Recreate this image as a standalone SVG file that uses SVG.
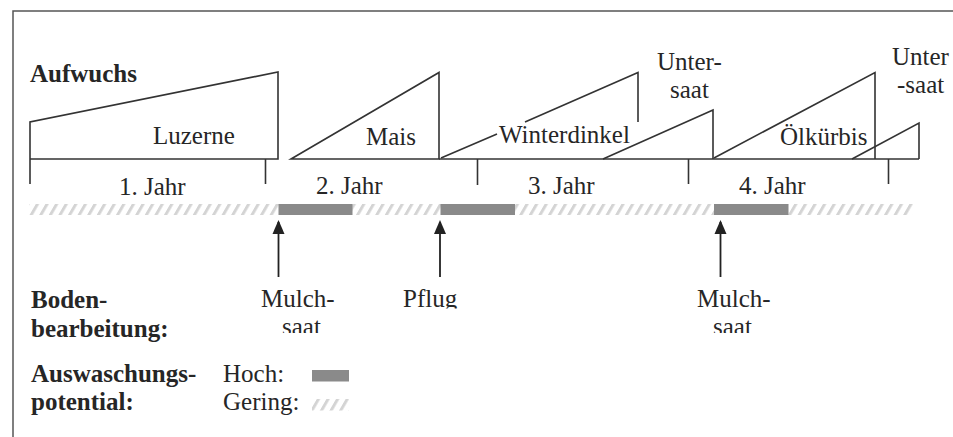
<svg xmlns="http://www.w3.org/2000/svg" width="953" height="437" viewBox="0 0 953 437" font-family="Liberation Serif, serif" font-size="25">
<style>
  .ln{fill:none;stroke:#333;stroke-width:1.6;stroke-linejoin:miter}
  .t{fill:#262626}
  .hi{fill:#8a8a8a}
  .lo{fill:url(#hatch)}
  .arr{stroke:#222;stroke-width:1.8;marker-end:url(#ah)}
</style>
<defs>
  <pattern id="hatch" patternUnits="userSpaceOnUse" width="9.6" height="40" patternTransform="skewX(-30)">
    <rect x="0" y="0" width="3.4" height="40" fill="#d4d4d4"/>
  </pattern>
  <marker id="ah" markerUnits="userSpaceOnUse" markerWidth="14" markerHeight="14" viewBox="0 0 14 12" refX="12" refY="6" orient="auto">
    <path d="M0,0 L14,6 L0,12 z" fill="#222"/>
  </marker>
  <clipPath id="clipTop"><rect x="0" y="280" width="953" height="28.5"/></clipPath>
  <clipPath id="clipBot"><rect x="0" y="310" width="953" height="23"/></clipPath>
</defs>
<rect width="953" height="437" fill="#fff"/>
<path d="M13,437 V11 H953" fill="none" stroke="#555" stroke-width="1.5"/>

<g id="title"><text class="t" font-weight="bold" x="30" y="82">Aufwuchs</text></g>

<g id="luzerne">
  <path class="ln" d="M30,184 V122 L278,72 V159 H30"/>
  <text class="t" x="153" y="144">Luzerne</text>
</g>
<g id="mais">
  <path class="ln" d="M291,159 L439,72.5 V159 Z"/>
  <text class="t" x="366" y="145">Mais</text>
</g>
<g id="winterdinkel">
  <path class="ln" d="M439,159 H919"/>
  <path class="ln" d="M441,158 L497,134 M525,122 L638,72.5 V122"/>
  <text class="t" x="499" y="143">Winterdinkel</text>
</g>
<g id="untersaat1">
  <path class="ln" d="M603,159 L713,110 V159"/>
  <text class="t" x="657" y="70">Unter-</text>
  <text class="t" x="670" y="98">saat</text>
</g>
<g id="oelkuerbis">
  <path class="ln" d="M714,158 L875,72.5 V159"/>
  <text class="t" x="780" y="145">Ölkürbis</text>
</g>
<g id="untersaat2">
  <path class="ln" d="M852,159 L919,123 V159"/>
  <text class="t" x="892" y="65">Unter</text>
  <text class="t" x="897" y="93">-saat</text>
</g>

<g id="jahre">
  <path class="ln" d="M265.5,159 V184 M477.5,159 V185 M688.5,159 V184 M888.5,159 V184"/>
  <text class="t" x="119" y="195">1. Jahr</text>
  <text class="t" x="316" y="194">2. Jahr</text>
  <text class="t" x="528" y="194">3. Jahr</text>
  <text class="t" x="739" y="194">4. Jahr</text>
</g>

<g id="auswaschung">
  <rect class="lo" x="29" y="204" width="884" height="11"/>
  <rect class="hi" x="278.5" y="204" width="74" height="11"/>
  <rect class="hi" x="440.5" y="204" width="74.5" height="11"/>
  <rect class="hi" x="714" y="204" width="74.5" height="11"/>
</g>

<g id="connectors">
  <line class="arr" x1="278.5" y1="277" x2="278.5" y2="222"/>
  <line class="arr" x1="440" y1="277" x2="440" y2="222"/>
  <line class="arr" x1="720.5" y1="277" x2="720.5" y2="222"/>
</g>

<g id="bodenbearbeitung">
  <text class="t" font-weight="bold" x="31" y="308">Boden-</text>
  <text class="t" font-weight="bold" x="31" y="337">bearbeitung:</text>
  <g clip-path="url(#clipTop)">
    <text class="t" x="261" y="307">Mulch-</text>
    <text class="t" x="403" y="307">Pflug</text>
    <text class="t" x="697" y="307">Mulch-</text>
  </g>
  <g clip-path="url(#clipBot)">
    <text class="t" x="282" y="335">saat</text>
    <text class="t" x="713" y="335">saat</text>
  </g>
</g>

<g id="legende">
  <text class="t" font-weight="bold" x="31" y="382">Auswaschungs-</text>
  <text class="t" font-weight="bold" x="31" y="410">potential:</text>
  <text class="t" x="223" y="382">Hoch:</text>
  <text class="t" x="223" y="410">Gering:</text>
  <rect class="hi" x="312" y="370" width="37" height="11.5"/>
  <rect class="lo" x="312" y="399" width="37" height="11.5"/>
</g>
</svg>
